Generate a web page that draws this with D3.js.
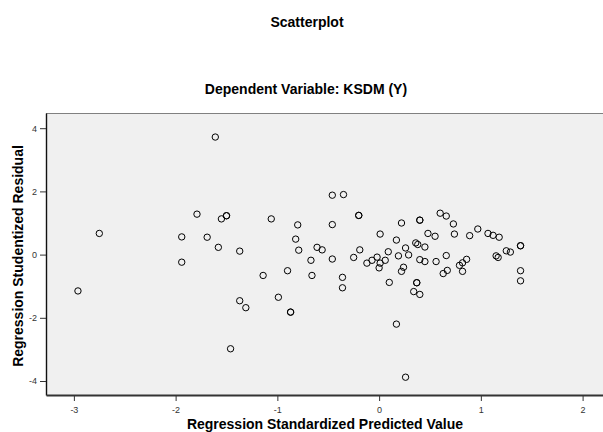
<!DOCTYPE html>
<html>
<head>
<meta charset="utf-8">
<script src="https://cdn.jsdelivr.net/npm/d3@7"></script>
<style>
  body { margin: 0; background: #fff; }
  svg { display: block; font-family: "Liberation Sans", Arial, sans-serif; }
</style>
</head>
<body>
<svg id="chart"></svg>
<script>
// regression standardized predicted value (x) / studentized residual (y)
const predicted = [
  -2.96, -2.75, -1.94, -1.94, -1.79, -1.61, -1.69, -1.55, -1.50, -1.50,
  -1.58, -1.37, -1.06, -0.80, -0.82, -0.79, -0.46, -0.35, -0.20, -0.20,
  -0.46, -0.61, -0.56, -0.67, -0.46, -0.25, -0.19, 0.01, -0.12, -0.07,
  -0.02, 0.01, 0.06, 0.09, 0.00, 0.22, 0.17, 0.26, 0.19, 0.29,
  0.36, 0.38, 0.45, 0.40, 0.40, 0.48, 0.40, 0.45, 0.24, 0.22,
  -0.36, -0.36, -1.14, -0.90, -0.66, -1.37, -1.31, -0.99, -0.87, -0.87,
  -1.46, 0.10, 0.37, 0.37, 0.34, 0.40, 0.17, 0.26, 0.56, 0.63,
  0.67, 0.66, 0.79, 0.82, 0.86, 0.82, 0.60, 0.66, 0.73, 0.55,
  0.74, 0.89, 0.97, 1.07, 1.12, 1.18, 1.15, 1.17, 1.25, 1.29,
  1.39, 1.39, 1.39, 1.39
];
const residual = [
  -1.15, 0.67, 0.56, -0.24, 1.28, 3.72, 0.55, 1.13, 1.23, 1.23,
  0.23, 0.11, 1.13, 0.94, 0.49, 0.14, 1.88, 1.90, 1.24, 1.24,
  0.95, 0.23, 0.15, -0.18, -0.14, -0.09, 0.15, 0.65, -0.27, -0.18,
  -0.08, -0.27, -0.18, 0.09, -0.42, 1.00, 0.46, 0.21, -0.04, -0.01,
  0.37, 0.32, 0.24, 1.09, 1.09, 0.67, -0.16, -0.22, -0.40, -0.53,
  -0.72, -1.05, -0.66, -0.51, -0.66, -1.46, -1.68, -1.35, -1.82, -1.82,
  -2.98, -0.88, -0.89, -0.89, -1.17, -1.26, -2.20, -3.88, -0.22, -0.60,
  -0.50, -0.03, -0.34, -0.26, -0.15, -0.53, 1.31, 1.22, 0.97, 0.58,
  0.65, 0.60, 0.81, 0.67, 0.61, 0.55, -0.04, -0.09, 0.12, 0.08,
  0.28, 0.28, -0.51, -0.83
];
const xTicks = [-3, -2, -1, 0, 1, 2];
const yTicks = [-4, -2, 0, 2, 4];

const chartTitle = "Scatterplot";
const chartSubtitle = "Dependent Variable: KSDM (Y)";
const xLabel = "Regression Standardized Predicted Value";
const yLabel = "Regression Studentized Residual";

const data = predicted.map((p, i) => ({ x: p, y: residual[i] }));

const width = 603;
const height = 432;
const margin = { top: 113, right: -3, bottom: 37, left: 46 };

const svg = d3.select("#chart")
  .attr("width", width)
  .attr("height", height);

const x = d3.scaleLinear()
  .domain([-3.274, 2.23])
  .range([margin.left, width - margin.right]);

const y = d3.scaleLinear()
  .domain([-4.443, 4.481])
  .range([height - margin.bottom, margin.top]);

// plot background
svg.append("rect")
  .attr("x", margin.left)
  .attr("y", margin.top)
  .attr("width", width - margin.right - margin.left)
  .attr("height", height - margin.bottom - margin.top)
  .attr("fill", "#f0f0f0");

// top border
svg.append("line")
  .attr("x1", margin.left).attr("x2", width)
  .attr("y1", margin.top + 0.5).attr("y2", margin.top + 0.5)
  .attr("stroke", "#808080");

// points
svg.append("g")
  .selectAll("circle")
  .data(data)
  .join("circle")
  .attr("cx", d => x(d.x))
  .attr("cy", d => y(d.y))
  .attr("r", 3.2)
  .attr("fill", "none")
  .attr("stroke", "#000")
  .attr("stroke-width", 1);

// plain hyphen for negatives, like the original
const tickFmt = d => String(d);

// y axis
svg.append("g")
  .attr("transform", `translate(${margin.left},0)`)
  .call(d3.axisLeft(y).tickValues(yTicks).tickSizeInner(6).tickSizeOuter(0).tickPadding(3).tickFormat(tickFmt))
  .call(g => g.select(".domain").attr("stroke", "#111").attr("stroke-width", 1.4))
  .call(g => g.selectAll(".tick line").attr("stroke", "#333"))
  .call(g => g.selectAll(".tick text")
    .attr("fill", "#333")
    .attr("font-size", 9)
    .attr("font-family", "Liberation Sans, Arial, sans-serif"));

// x axis
svg.append("g")
  .attr("transform", `translate(0,${height - margin.bottom})`)
  .call(d3.axisBottom(x).tickValues(xTicks).tickSizeInner(6).tickSizeOuter(0).tickPadding(6).tickFormat(tickFmt))
  .call(g => g.select(".domain").attr("stroke", "#333").attr("stroke-width", 2))
  .call(g => g.selectAll(".tick line").attr("stroke", "#333"))
  .call(g => g.selectAll(".tick text")
    .attr("fill", "#333")
    .attr("font-size", 9)
    .attr("font-family", "Liberation Sans, Arial, sans-serif"));

// titles
svg.append("text")
  .attr("x", 307).attr("y", 27)
  .attr("text-anchor", "middle")
  .attr("font-size", 14)
  .attr("font-weight", "bold")
  .text(chartTitle);

svg.append("text")
  .attr("x", 306).attr("y", 94)
  .attr("text-anchor", "middle")
  .attr("font-size", 14)
  .attr("font-weight", "bold")
  .text(chartSubtitle);

svg.append("text")
  .attr("x", 325).attr("y", 429)
  .attr("text-anchor", "middle")
  .attr("font-size", 14)
  .attr("font-weight", "bold")
  .text(xLabel);

svg.append("text")
  .attr("transform", `translate(23,256) rotate(-90)`)
  .attr("text-anchor", "middle")
  .attr("font-size", 14)
  .attr("font-weight", "bold")
  .text(yLabel);
</script>
</body>
</html>
